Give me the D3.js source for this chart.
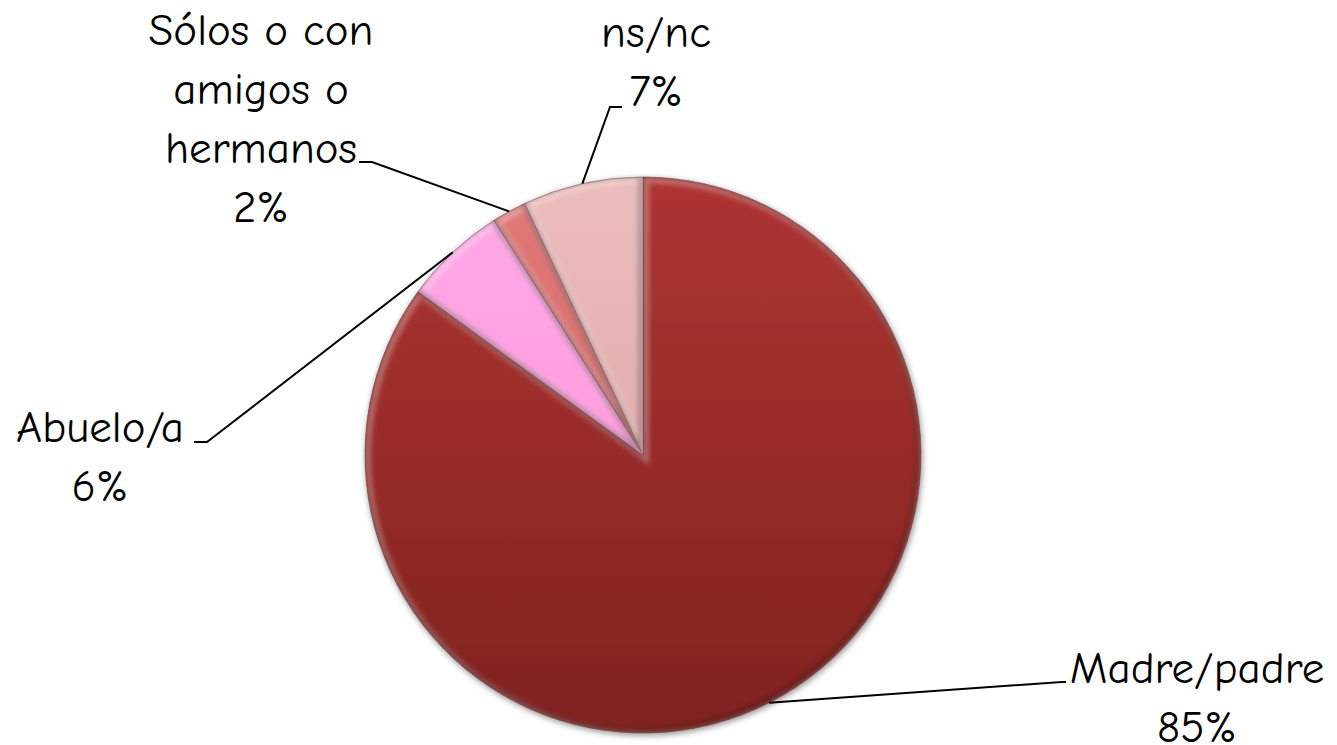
<!DOCTYPE html>
<html>
<head>
<meta charset="utf-8">
<script src="https://cdn.jsdelivr.net/npm/d3@7"></script>
<style>
  html, body { margin: 0; padding: 0; background: #fff; }
  .label { font-family: "Comic Sans MS", "Comic Neue", "DejaVu Sans", sans-serif; font-size: 45px; fill: #000; }
</style>
</head>
<body>
<div class="chart"></div>
<script>
// who do they live with - pie chart

var categories = ["Madre/padre", "Abuelo/a", "Sólos o con amigos o hermanos", "ns/nc"];
var values = [85, 6, 2, 7];
var percentLabels = ["85%", "6%", "2%", "7%"];

// label text lines, as wrapped in the original
var labelLines = [
  ["Madre/padre"],
  ["Abuelo/a"],
  ["Sólos o con", "amigos o", "hermanos"],
  ["ns/nc"]
];

var svgWidth = 1337;
var svgHeight = 745;

var cx = 643;
var cy = 455;
var radius = 278;

// colours (top / bottom of gradient)
var sliceColors = [
  ["#ae3432", "#7f221f"],
  ["#ffa8e8", "#ff92d4"],
  ["#e27a7a", "#c95a5a"],
  ["#edbcbc", "#d6a0a0"]
];

// where each label block sits: x centre of text, baseline of first line,
// and where the leader elbow ends
var labelLayout = [
  { x: 1197, y: 683, elbow: [1062, 682], tick: 1066 },
  { x: 100,  y: 442, elbow: [207, 442],  tick: 194 },
  { x: 261,  y: 45,  elbow: [372, 162],  tick: 359 },
  { x: 656,  y: 47,  elbow: [610, 107],  tick: 622 }
];
var lineGap = 59;

var svg = d3.select(".chart")
  .append("svg")
  .attr("width", svgWidth)
  .attr("height", svgHeight);

var defs = svg.append("defs");

// gradients are in the pie group's own coordinates (centre at 0,0)
sliceColors.forEach(function(c, i) {
  var g = defs.append("linearGradient")
    .attr("id", "grad" + i)
    .attr("gradientUnits", "userSpaceOnUse")
    .attr("x1", 0).attr("y1", -radius)
    .attr("x2", 0).attr("y2", radius);
  g.append("stop").attr("offset", "0%").attr("stop-color", c[0]);
  g.append("stop").attr("offset", "100%").attr("stop-color", c[1]);
});

// soft shadow under the pie
var shadow = defs.append("filter")
  .attr("id", "shadow")
  .attr("x", "-10%").attr("y", "-10%")
  .attr("width", "120%").attr("height", "120%");
shadow.append("feDropShadow")
  .attr("dx", 1).attr("dy", 2)
  .attr("stdDeviation", 3)
  .attr("flood-color", "#000")
  .attr("flood-opacity", 0.45);

var blur = defs.append("filter").attr("id", "blur");
blur.append("feGaussianBlur").attr("stdDeviation", 2.5);

var pie = d3.pie()
  .sort(null)
  .value(function(d) { return d; });

var arcs = pie(values);

var arc = d3.arc()
  .innerRadius(0)
  .outerRadius(radius);

var edgeArc = d3.arc()
  .innerRadius(radius)
  .outerRadius(radius);

var chartGroup = svg.append("g")
  .attr("transform", `translate(${cx}, ${cy})`);

var pieGroup = chartGroup.append("g")
  .attr("filter", "url(#shadow)");

pieGroup.selectAll("path.slice")
  .data(arcs)
  .enter()
  .append("path")
  .attr("class", "slice")
  .attr("d", arc)
  .attr("fill", function(d, i) { return "url(#grad" + i + ")"; })
  .attr("stroke", "#5a1a1a")
  .attr("stroke-opacity", 0.45)
  .attr("stroke-width", 1);

// bevel look: clipped blurred light / dark strokes inside each slice
arcs.forEach(function(d, i) {
  defs.append("clipPath")
    .attr("id", "clip" + i)
    .append("path")
    .attr("d", arc(d))
    .attr("transform", `translate(${cx}, ${cy})`);
});

var bevelGroup = svg.append("g");
arcs.forEach(function(d, i) {
  var g = bevelGroup.append("g").attr("clip-path", "url(#clip" + i + ")");
  g.append("path")
    .attr("transform", `translate(${cx + 2}, ${cy + 2})`)
    .attr("d", arc(d))
    .attr("fill", "none")
    .attr("stroke", "#fff")
    .attr("stroke-opacity", 0.3)
    .attr("stroke-width", 8)
    .attr("filter", "url(#blur)");
  g.append("path")
    .attr("transform", `translate(${cx - 2}, ${cy - 2})`)
    .attr("d", arc(d))
    .attr("fill", "none")
    .attr("stroke", "#000")
    .attr("stroke-opacity", 0.3)
    .attr("stroke-width", 5)
    .attr("filter", "url(#blur)");
});

// leader lines from slice edge midpoint to label
var leaderGroup = svg.append("g");
arcs.forEach(function(d, i) {
  var p = edgeArc.centroid(d);
  var lay = labelLayout[i];
  var pts = [[cx + p[0], cy + p[1]], lay.elbow, [lay.tick, lay.elbow[1]]];
  leaderGroup.append("path")
    .attr("d", d3.line()(pts))
    .attr("fill", "none")
    .attr("stroke", "#000")
    .attr("stroke-width", 2);
});

// labels
var labelGroup = svg.append("g");
categories.forEach(function(cat, i) {
  var lay = labelLayout[i];
  var lines = labelLines[i].concat([percentLabels[i]]);
  var t = labelGroup.append("text")
    .attr("class", "label")
    .attr("text-anchor", "middle");
  lines.forEach(function(line, j) {
    t.append("tspan")
      .attr("x", lay.x)
      .attr("y", lay.y + j * lineGap)
      .text(line);
  });
});
</script>
</body>
</html>
